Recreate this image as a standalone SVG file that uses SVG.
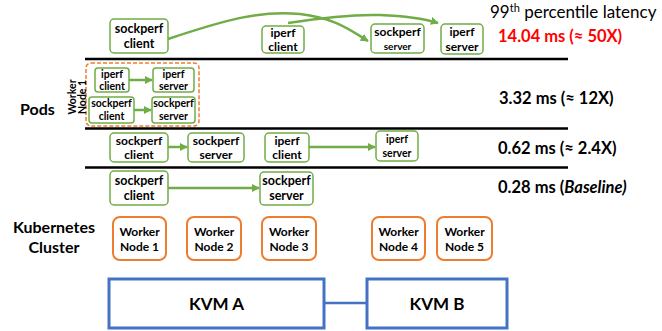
<svg xmlns="http://www.w3.org/2000/svg" width="662" height="331" viewBox="0 0 662 331">
<style>
text{font-family:Lato,"Open Sans","Liberation Sans",sans-serif;font-weight:bold;fill:#000}
.pod{fill:#fff;stroke:#70AD47;stroke-width:1.5}
.wn{fill:#fff;stroke:#ED7D31;stroke-width:2}
.kvm{fill:#fff;stroke:#4472C4;stroke-width:3}
.sep{stroke:#000;stroke-width:2.5}
.c{text-anchor:middle}
.b13{font-size:12.5px}
.b12{font-size:12px}
.b11{font-size:10.5px}
.b10{font-size:10px}
.conn{fill:none;stroke:#70AD47;stroke-width:2.5;marker-end:url(#ah)}
.lat{font-size:16.5px}
</style>
<defs>
<marker id="ah" viewBox="0 0 10 10" refX="9" refY="5" markerWidth="3.2" markerHeight="3.2" orient="auto" markerUnits="strokeWidth">
<path d="M0,0 L10,5 L0,10 z" fill="#70AD47"/>
</marker>
</defs>

<g id="separators">
<line class="sep" x1="85" y1="59" x2="568" y2="59"/>
<line class="sep" x1="85" y1="128.5" x2="568" y2="128.5"/>
<line class="sep" x1="85" y1="167.5" x2="568" y2="167.5"/>
</g>

<g id="labels">
<text x="20" y="115" style="font-size:16px">Pods</text>
<text class="c" x="54" y="233" style="font-size:16px">Kubernetes</text>
<text class="c" x="54" y="253" style="font-size:16px">Cluster</text>
<text x="490" y="18" style="font-size:17px;font-weight:normal">99<tspan dy="-6" style="font-size:11px">th</tspan><tspan dy="6"> percentile latency</tspan></text>
<text class="lat" x="498" y="42" style="fill:#FF0000">14.04 ms (≈ 50X)</text>
<text class="lat" x="499" y="104">3.32 ms (≈ 12X)</text>
<text class="lat" x="498" y="154">0.62 ms (≈ 2.4X)</text>
<text class="lat" x="498" y="193">0.28 ms (<tspan font-style="italic">Baseline)</tspan></text>
</g>

<!-- Row 1 -->
<g id="r1-sockperf-client">
<rect class="pod" x="110" y="19" width="58" height="34" rx="4"/>
<text class="c b13" x="139" y="33">sockperf</text>
<text class="c b13" x="139" y="48">client</text>
</g>
<g id="r1-iperf-client">
<rect class="pod" x="262" y="26" width="42" height="27" rx="4"/>
<text class="c b12" x="283" y="37">iperf</text>
<text class="c b12" x="283" y="51">client</text>
</g>
<g id="r1-sockperf-server">
<rect class="pod" x="371" y="24" width="53" height="29" rx="4"/>
<text class="c b12" x="397.5" y="36">sockperf</text>
<text class="c b10" x="397.5" y="50">server</text>
</g>
<g id="r1-iperf-server">
<rect class="pod" x="441" y="24" width="42" height="30" rx="4"/>
<text class="c b12" x="462" y="36">iperf</text>
<text class="c b12" x="462" y="51">server</text>
</g>

<!-- Row 2 -->
<g id="worker-node-1-group">
<rect x="86" y="63" width="113" height="63" rx="5" fill="none" stroke="#ED7D31" stroke-width="1.5" stroke-dasharray="4,2"/>
<text class="c b11" transform="translate(76,97) rotate(-90)">Worker</text>
<text class="c b11" transform="translate(86,97) rotate(-90)">Node 1</text>
</g>
<g id="r2-iperf-client">
<rect class="pod" x="95" y="68" width="34" height="24" rx="3"/>
<text class="c b11" x="112" y="78">iperf</text>
<text class="c b11" x="112" y="90">client</text>
</g>
<g id="r2-iperf-server">
<rect class="pod" x="153" y="68" width="41" height="24" rx="3"/>
<text class="c b11" x="173.5" y="78">iperf</text>
<text class="c b11" x="173.5" y="90">server</text>
</g>
<g id="r2-sockperf-client">
<rect class="pod" x="89" y="97" width="45" height="26" rx="3"/>
<text class="c b11" x="111.5" y="107">sockperf</text>
<text class="c b11" x="111.5" y="120">client</text>
</g>
<g id="r2-sockperf-server">
<rect class="pod" x="152" y="97" width="43" height="26" rx="3"/>
<text class="c b11" x="173.5" y="107">sockperf</text>
<text class="c b11" x="173.5" y="120">server</text>
</g>

<!-- Row 3 -->
<g id="r3-sockperf-client">
<rect class="pod" x="110" y="133" width="58" height="29" rx="4"/>
<text class="c b12" x="139" y="145">sockperf</text>
<text class="c b12" x="139" y="159">client</text>
</g>
<g id="r3-sockperf-server">
<rect class="pod" x="188" y="133" width="56" height="29" rx="4"/>
<text class="c b12" x="216" y="145">sockperf</text>
<text class="c b12" x="216" y="159">server</text>
</g>
<g id="r3-iperf-client">
<rect class="pod" x="265" y="133" width="44" height="29" rx="4"/>
<text class="c b12" x="287" y="145">iperf</text>
<text class="c b12" x="287" y="159">client</text>
</g>
<g id="r3-iperf-server">
<rect class="pod" x="376" y="131" width="42" height="30" rx="4"/>
<text class="c b11" x="397" y="143">iperf</text>
<text class="c b11" x="397" y="157">server</text>
</g>

<!-- Row 4 -->
<g id="r4-sockperf-client">
<rect class="pod" x="110" y="171" width="58" height="34" rx="4"/>
<text class="c b13" x="139" y="185">sockperf</text>
<text class="c b13" x="139" y="200">client</text>
</g>
<g id="r4-sockperf-server">
<rect class="pod" x="260" y="172" width="53" height="33" rx="4"/>
<text class="c b13" x="286.5" y="185">sockperf</text>
<text class="c b13" x="286.5" y="200">server</text>
</g>

<!-- Worker nodes -->
<g id="wn1"><rect class="wn" x="113" y="217" width="53" height="43" rx="7"/>
<text class="c b12" x="139.5" y="236">Worker</text><text class="c b12" x="139.5" y="251">Node 1</text></g>
<g id="wn2"><rect class="wn" x="187" y="217" width="54" height="43" rx="7"/>
<text class="c b12" x="214" y="236">Worker</text><text class="c b12" x="214" y="251">Node 2</text></g>
<g id="wn3"><rect class="wn" x="262" y="217" width="54" height="43" rx="7"/>
<text class="c b12" x="289" y="236">Worker</text><text class="c b12" x="289" y="251">Node 3</text></g>
<g id="wn4"><rect class="wn" x="372" y="217" width="53" height="43" rx="7"/>
<text class="c b12" x="398.5" y="236">Worker</text><text class="c b12" x="398.5" y="251">Node 4</text></g>
<g id="wn5"><rect class="wn" x="437" y="217" width="55" height="43" rx="7"/>
<text class="c b12" x="464.5" y="236">Worker</text><text class="c b12" x="464.5" y="251">Node 5</text></g>

<!-- KVMs -->
<g id="kvm-a"><rect class="kvm" x="109" y="279" width="215" height="49"/>
<text class="c" x="216.5" y="310" style="font-size:17px">KVM A</text></g>
<g id="kvm-b"><rect class="kvm" x="367" y="279" width="140" height="49"/>
<text class="c" x="437" y="310" style="font-size:17px">KVM B</text></g>

<g id="connectors">
<line x1="324" y1="303" x2="367" y2="303" stroke="#4472C4" stroke-width="2.5"/>
<path class="conn" d="M168,39 C225,20 260,10 300,14 C335,18 350,30 368,41"/>
<path class="conn" d="M288,23 C320,18 350,14 380,15 C405,16 425,19 438,23"/>
<line class="conn" x1="129" y1="80" x2="152" y2="80"/>
<line class="conn" x1="134" y1="110" x2="151" y2="110"/>
<line class="conn" x1="168" y1="147" x2="187" y2="147"/>
<line class="conn" x1="309" y1="147" x2="375" y2="147"/>
<line class="conn" x1="168" y1="188" x2="259" y2="188"/>
</g>
</svg>
